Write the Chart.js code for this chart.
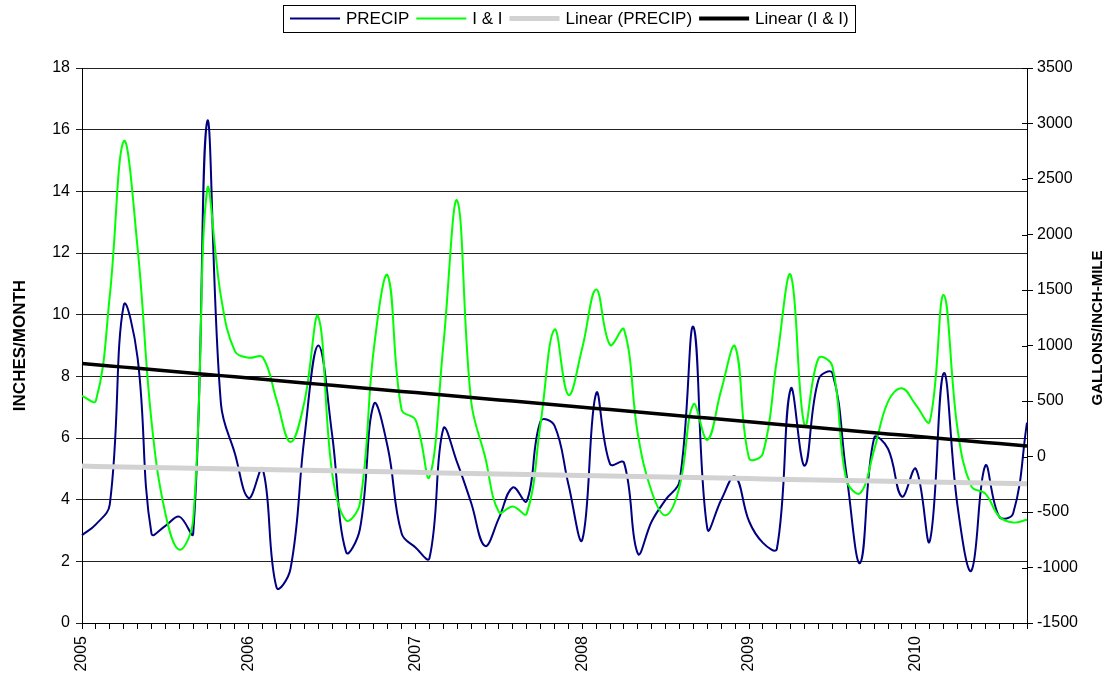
<!DOCTYPE html>
<html>
<head>
<meta charset="utf-8">
<script src="https://cdn.jsdelivr.net/npm/chart.js@4.4.1/dist/chart.umd.min.js"></script>
<style>
html,body{margin:0;padding:0;background:#fff;}
#wrap{width:1109px;height:673px;position:relative;}
</style>
</head>
<body>
<div id="wrap"><canvas id="c" width="1109" height="673"></canvas></div>
<script>
// ---- data ----
const years = ['2005', '2006', '2007', '2008', '2009', '2010'];
const monthNames = ['Jan','Feb','Mar','Apr','May','Jun','Jul','Aug','Sep','Oct','Nov','Dec'];
const monthCount = 69; // Jan 2005 .. Sep 2010

// PRECIP, inches/month (left axis)
const precip = [2.85, 3.2, 3.85, 10.3, 8.6, 2.9, 3.15, 3.45, 2.9, 16.25, 7.1, 5.5,
                4.05, 5.0, 1.15, 1.75, 6.0, 9.0, 6.1, 2.3, 3.05, 7.1, 5.7, 2.9,
                2.45, 2.1, 6.3, 5.2, 3.9, 2.5, 3.4, 4.4, 3.95, 6.55, 6.4, 4.5,
                2.7, 7.45, 5.15, 5.2, 2.25, 3.3, 4.0, 4.6, 9.6, 3.05, 4.0, 4.75,
                3.3, 2.6, 2.4, 7.6, 5.1, 7.9, 8.1, 4.85, 1.95, 6.0, 5.65, 4.1,
                5.0, 2.65, 8.1, 3.8, 1.7, 5.1, 3.45, 3.55, 6.5];

// I & I, gallons/inch-mile (right axis)
const inflow = [545, 503, 1450, 2840, 1880, 320, -514, -840, -570, 2400, 1440, 950,
                890, 895, 510, 130, 490, 1260, -150, -575, -420, 970, 1630, 420,
                330, -185, 1000, 2305, 500, 0, -500, -450, -515, 300, 1145, 555,
                980, 1505, 1005, 1145, 200, -320, -530, -270, 470, 150, 600, 990,
                -15, 30, 870, 1635, 280, 885, 810, -210, -330, 60, 495, 615,
                465, 315, 1455, 250, -270, -335, -540, -595, -570];

const seriesNames = ['PRECIP', 'I & I', 'Linear (PRECIP)', 'Linear (I & I)'];
const leftAxis = {min: 0, max: 18, step: 2, title: 'INCHES/MONTH'};
const rightAxis = {min: -1500, max: 3500, step: 500, title: 'GALLONS/INCH-MILE'};

// ---- derived ----
const categories = [];
for (let i = 0; i < monthCount; i++) {
  categories.push(monthNames[i % 12] + ' ' + years[Math.floor(i / 12)]);
}
function linearTrend(arr) {
  const n = arr.length;
  let sx = 0, sy = 0, sxx = 0, sxy = 0;
  arr.forEach((y, x) => { sx += x; sy += y; sxx += x * x; sxy += x * y; });
  const b = (n * sxy - sx * sy) / (n * sxx - sx * sx);
  const a = (sy - b * sx) / n;
  return arr.map((_, x) => a + b * x);
}

const FONT = "'Liberation Sans', Arial, sans-serif";

// legend drawn from the datasets (line sample + label), boxed, like the reference
const boxedLegend = {
  id: 'boxedLegend',
  afterDraw(chart) {
    const ctx = chart.ctx;
    const dsets = chart.data.datasets;
    ctx.save();
    ctx.font = '17px ' + FONT;
    const sample = 50, gapText = 6, gapItem = 7;
    const widths = dsets.map(d => ctx.measureText(d.label).width);
    const total = widths.reduce((s, w) => s + sample + gapText + w, 0) + gapItem * (dsets.length - 1);
    const cy = 18.5;
    let x = Math.round(569.5 - total / 2);
    ctx.strokeStyle = '#000';
    ctx.lineWidth = 1;
    ctx.strokeRect(Math.round(x - 7) + 0.5, 5.5, Math.round(total + 13), 27);
    ctx.textBaseline = 'middle';
    ctx.fillStyle = '#000';
    dsets.forEach((d, i) => {
      ctx.beginPath();
      ctx.strokeStyle = d.borderColor;
      ctx.lineWidth = d.legendWidth || d.borderWidth;
      ctx.moveTo(x, cy);
      ctx.lineTo(x + sample, cy);
      ctx.stroke();
      x += sample + gapText;
      ctx.fillText(d.label, x, cy + 1);
      x += widths[i] + gapItem;
    });

    // inner half of the secondary axis tick marks
    const s2 = chart.scales.y2;
    ctx.strokeStyle = '#000';
    ctx.lineWidth = 1;
    s2.ticks.forEach(t => {
      const py = Math.round(s2.getPixelForValue(t.value)) + 0.5;
      ctx.beginPath();
      ctx.moveTo(s2.left - 5, py);
      ctx.lineTo(s2.left, py);
      ctx.stroke();
    });

    // secondary axis title, reading upward
    ctx.font = 'bold 15px ' + FONT;
    ctx.translate(1098, 328);
    ctx.rotate(-Math.PI / 2);
    ctx.textAlign = 'center';
    ctx.textBaseline = 'middle';
    ctx.fillText(rightAxis.title, 0, 0);
    ctx.restore();
  }
};

new Chart(document.getElementById('c'), {
  type: 'line',
  data: {
    labels: categories,
    datasets: [
      {label: seriesNames[0], data: precip, yAxisID: 'y', borderColor: '#000080', borderWidth: 2, pointRadius: 0, tension: 0.4, order: 3},
      {label: seriesNames[1], data: inflow, yAxisID: 'y2', borderColor: '#00FF00', borderWidth: 2, pointRadius: 0, tension: 0.4, order: 2},
      {label: seriesNames[2], data: linearTrend(precip), yAxisID: 'y', borderColor: '#D2D2D2', borderWidth: 5, pointRadius: 0, tension: 0, order: 1},
      {label: seriesNames[3], data: linearTrend(inflow), yAxisID: 'y2', borderColor: '#000000', borderWidth: 3.5, legendWidth: 4, pointRadius: 0, tension: 0, order: 0}
    ]
  },
  options: {
    responsive: false,
    animation: false,
    devicePixelRatio: 1,
    layout: {padding: {top: 68, left: 0, right: 0, bottom: 0}},
    plugins: {
      tooltip: {enabled: false},
      legend: {display: false}
    },
    scales: {
      x: {
        type: 'category',
        offset: false,
        afterFit(s) { s.height = 50; },
        border: {color: '#000', width: 1},
        grid: {drawOnChartArea: false, drawTicks: true, tickLength: 6, color: '#000'},
        ticks: {
          autoSkip: false, maxRotation: 90, minRotation: 90, padding: 7,
          color: '#000', font: {family: FONT, size: 16},
          callback(v, i) { return i % 12 === 0 ? years[i / 12] : ''; }
        }
      },
      y: {
        position: 'left',
        min: leftAxis.min, max: leftAxis.max,
        afterFit(s) { s.width = 82; },
        border: {color: '#000', width: 1},
        grid: {color: '#222', tickLength: 6, drawTicks: true},
        ticks: {stepSize: leftAxis.step, color: '#000', padding: 6, font: {family: FONT, size: 16}},
        title: {display: true, text: leftAxis.title, color: '#000', font: {family: FONT, size: 17, weight: 'bold'}, padding: {top: 10, bottom: 0}}
      },
      y2: {
        position: 'right',
        min: rightAxis.min, max: rightAxis.max,
        afterFit(s) { s.width = 82; },
        border: {color: '#000', width: 1},
        grid: {drawOnChartArea: false, tickLength: 6, color: '#000'},
        ticks: {stepSize: rightAxis.step, color: '#000', padding: 4, font: {family: FONT, size: 16},
                callback(v) { return String(v); }},
        title: {display: false}
      }
    }
  },
  plugins: [boxedLegend]
});
</script>
</body>
</html>
